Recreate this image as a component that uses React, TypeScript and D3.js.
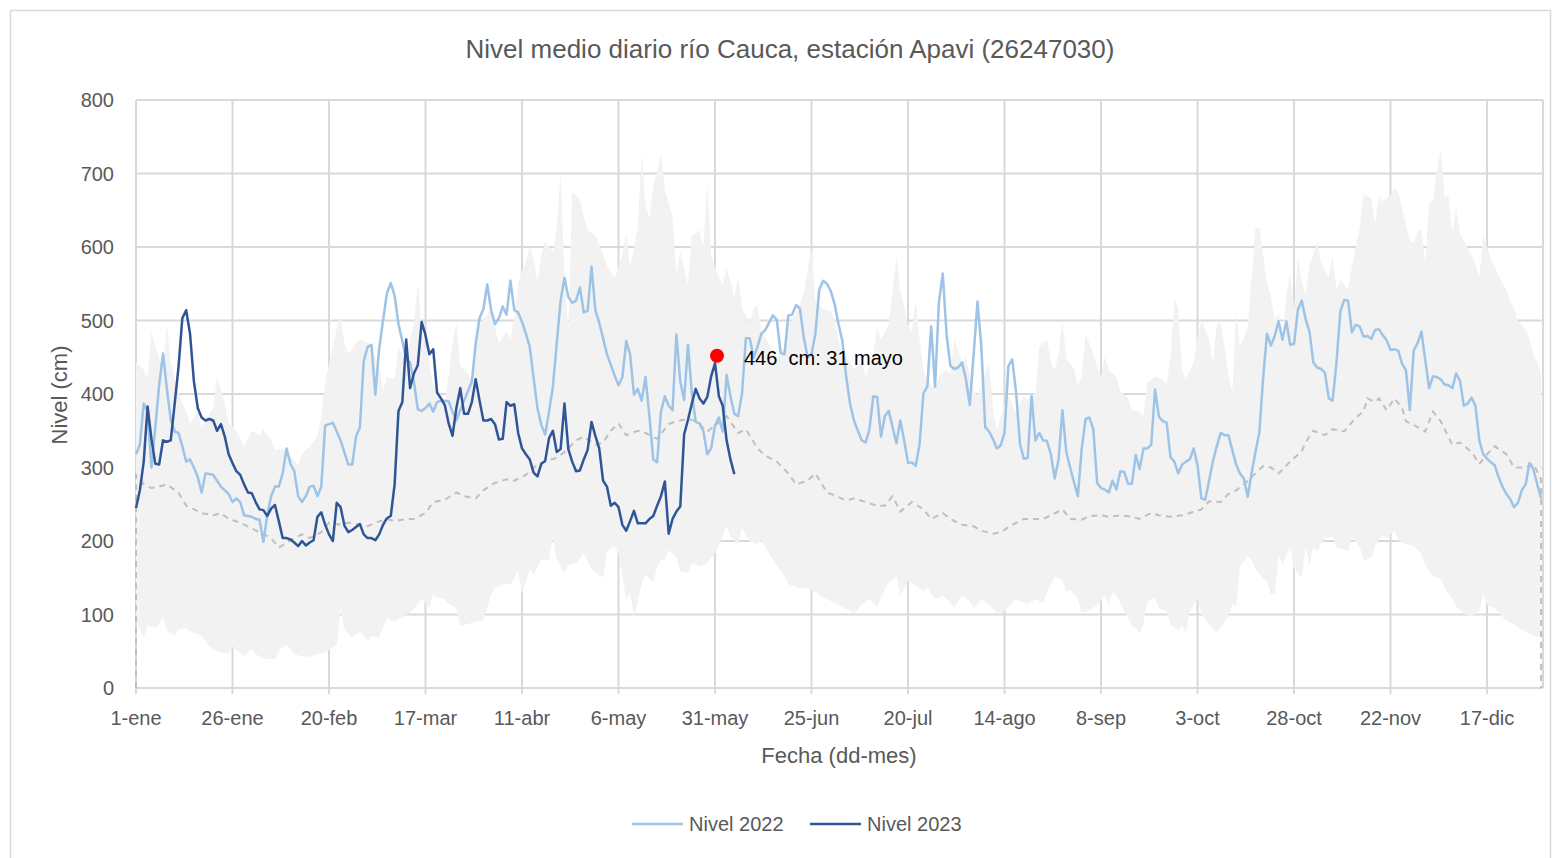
import { useEffect, useRef } from "react";
import * as d3 from "d3";

// eje x: día del año (0 = 1-ene)
const tickDias = [0, 25, 50, 75, 100, 125, 150, 175, 200, 225, 250, 275, 300, 325, 350];
const tickFechas = ["1-ene", "26-ene", "20-feb", "17-mar", "11-abr", "6-may", "31-may", "25-jun", "20-jul", "14-ago", "8-sep", "3-oct", "28-oct", "22-nov", "17-dic"];
const tickNivel = [0, 100, 200, 300, 400, 500, 600, 700, 800];

// [día, nivel cm]
const nivel2022: [number, number][] = [
  [0, 318], [1, 331], [2, 387], [3, 376], [4, 300], [5, 355], [6, 412], [7, 455], [8, 407], [9, 365],
  [10, 349], [11, 347], [12, 329], [13, 308], [14, 311], [15, 300], [16, 287], [17, 266], [18, 292], [20, 290],
  [21, 282], [22, 274], [23, 269], [24, 264], [25, 253], [26, 258], [27, 253], [28, 235], [30, 233], [31, 230],
  [32, 229], [33, 199], [34, 235], [35, 261], [36, 274], [37, 274], [38, 292], [39, 326], [40, 305], [41, 295],
  [42, 261], [43, 253], [44, 261], [45, 274], [46, 275], [47, 261], [48, 274], [49, 357], [51, 361], [53, 337],
  [55, 304], [56, 304], [57, 342], [58, 355], [59, 445], [60, 464], [61, 467], [62, 399], [63, 462], [64, 500],
  [65, 537], [66, 551], [67, 534], [68, 495], [69, 472], [70, 446], [71, 443], [72, 417], [73, 379], [74, 377],
  [75, 381], [76, 387], [77, 376], [78, 389], [79, 391], [81, 390], [82, 376], [83, 364], [84, 378], [85, 391],
  [87, 417], [88, 469], [89, 503], [90, 516], [91, 549], [92, 514], [93, 495], [94, 503], [95, 519], [96, 508],
  [97, 554], [98, 514], [99, 511], [100, 498], [101, 482], [102, 464], [103, 422], [104, 381], [105, 358], [106, 345],
  [107, 376], [108, 410], [109, 469], [110, 527], [111, 558], [112, 532], [113, 524], [114, 527], [115, 545], [116, 511],
  [117, 513], [118, 573], [119, 514], [120, 497], [121, 476], [122, 454], [123, 440], [124, 425], [125, 412], [126, 423],
  [127, 472], [128, 454], [129, 399], [130, 407], [131, 391], [132, 423], [133, 370], [134, 311], [135, 307], [136, 376],
  [137, 397], [138, 384], [139, 378], [140, 481], [141, 417], [142, 392], [143, 467], [144, 401], [145, 362], [146, 360],
  [147, 349], [148, 318], [149, 326], [150, 357], [151, 368], [152, 349], [153, 426], [154, 397], [155, 373], [156, 370],
  [157, 401], [158, 476], [159, 476], [160, 449], [161, 464], [162, 482], [163, 487], [165, 507], [166, 501], [167, 456],
  [168, 454], [169, 507], [170, 508], [171, 521], [172, 516], [173, 477], [174, 450], [175, 454], [176, 482], [177, 542],
  [178, 554], [179, 550], [180, 540], [181, 522], [182, 495], [183, 472], [184, 423], [185, 386], [186, 364], [187, 350],
  [188, 337], [189, 334], [190, 352], [191, 397], [192, 396], [193, 342], [194, 370], [195, 377], [196, 355], [197, 333],
  [198, 364], [199, 337], [200, 306], [201, 307], [202, 302], [203, 332], [204, 401], [205, 410], [206, 492], [207, 410],
  [208, 524], [209, 564], [210, 480], [211, 438], [212, 434], [213, 436], [214, 443], [215, 420], [216, 385], [217, 454],
  [218, 526], [219, 464], [220, 355], [221, 349], [222, 339], [223, 326], [224, 330], [225, 347], [226, 438], [227, 447],
  [228, 402], [229, 332], [230, 312], [231, 313], [232, 397], [233, 337], [234, 347], [235, 337], [236, 336], [237, 318],
  [238, 285], [239, 311], [240, 378], [241, 321], [242, 300], [243, 280], [244, 261], [245, 326], [246, 366], [247, 368],
  [248, 352], [249, 279], [250, 272], [251, 270], [252, 266], [253, 282], [254, 270], [255, 295], [256, 294], [257, 278],
  [258, 278], [259, 317], [260, 298], [261, 326], [262, 326], [263, 331], [264, 406], [265, 369], [266, 363], [267, 361],
  [268, 314], [269, 308], [270, 292], [271, 304], [272, 308], [273, 311], [274, 326], [275, 303], [276, 258], [277, 256],
  [278, 282], [279, 309], [280, 329], [281, 347], [282, 344], [283, 344], [284, 324], [285, 304], [286, 292], [287, 285],
  [288, 260], [289, 292], [290, 321], [291, 347], [292, 422], [293, 482], [294, 466], [295, 479], [296, 499], [297, 474],
  [298, 499], [299, 467], [300, 468], [301, 515], [302, 527], [303, 502], [304, 485], [305, 443], [306, 436], [307, 434],
  [308, 429], [309, 394], [310, 391], [311, 443], [312, 512], [313, 528], [314, 527], [315, 484], [316, 494], [317, 492],
  [318, 478], [319, 479], [320, 475], [321, 487], [322, 488], [323, 480], [324, 473], [325, 460], [326, 461], [327, 459],
  [328, 441], [329, 432], [330, 378], [331, 459], [332, 469], [333, 485], [334, 446], [335, 408], [336, 424], [337, 423],
  [338, 420], [339, 413], [340, 412], [341, 408], [342, 428], [343, 418], [344, 384], [345, 387], [346, 395], [347, 384],
  [348, 337], [349, 318], [350, 312], [351, 307], [352, 303], [353, 287], [354, 274], [355, 264], [356, 257], [357, 246],
  [358, 252], [359, 269], [360, 277], [361, 306], [362, 298], [363, 277], [364, 258],
];

const nivel2023: [number, number][] = [
  [0, 245], [1, 269], [2, 308], [3, 383], [4, 339], [5, 305], [6, 304], [7, 337], [8, 335], [9, 337],
  [10, 386], [11, 436], [12, 503], [13, 514], [14, 482], [15, 417], [16, 381], [17, 368], [18, 364], [19, 366],
  [20, 364], [21, 350], [22, 359], [23, 342], [24, 318], [25, 306], [26, 295], [27, 290], [28, 277], [29, 266],
  [30, 265], [31, 253], [32, 243], [33, 242], [34, 234], [35, 244], [36, 249], [37, 227], [38, 204], [39, 204],
  [40, 202], [41, 198], [42, 193], [43, 200], [44, 194], [45, 198], [46, 201], [47, 233], [48, 239], [49, 222],
  [50, 209], [51, 200], [52, 252], [53, 246], [54, 221], [55, 212], [56, 215], [57, 219], [58, 223], [59, 209],
  [60, 204], [61, 204], [62, 201], [63, 209], [64, 222], [65, 231], [66, 234], [67, 277], [68, 377], [69, 389],
  [70, 474], [71, 408], [72, 428], [73, 439], [74, 498], [75, 480], [76, 454], [77, 461], [78, 402], [79, 394],
  [80, 385], [81, 360], [82, 343], [83, 381], [84, 408], [85, 373], [86, 373], [87, 389], [88, 420], [89, 391],
  [90, 364], [91, 364], [92, 366], [93, 359], [94, 338], [95, 339], [96, 389], [97, 384], [98, 386], [99, 347],
  [100, 326], [101, 318], [102, 311], [103, 293], [104, 288], [105, 305], [106, 309], [107, 340], [108, 350], [109, 321],
  [110, 325], [111, 387], [112, 325], [113, 308], [114, 295], [115, 296], [116, 311], [117, 324], [118, 362], [119, 343],
  [120, 326], [121, 282], [122, 274], [123, 248], [124, 252], [125, 246], [126, 222], [127, 214], [128, 227], [129, 241],
  [130, 224], [131, 224], [132, 224], [133, 230], [134, 234], [135, 248], [136, 261], [137, 281], [138, 210], [139, 230],
  [140, 240], [141, 247], [142, 345], [143, 365], [144, 387], [145, 407], [146, 394], [147, 387], [148, 396], [149, 424],
  [150, 442], [151, 397], [152, 384], [153, 337], [154, 311], [155, 291],
];

// nivel medio histórico
const nivelMedio: [number, number][] = [
  [0, 290], [2, 277], [4, 272], [6, 274], [8, 277], [11, 266], [13, 248], [15, 243], [17, 238], [20, 235],
  [22, 238], [24, 230], [27, 225], [30, 217], [32, 212], [35, 204], [37, 191], [40, 201], [43, 209], [45, 204],
  [48, 212], [50, 225], [53, 222], [55, 225], [58, 222], [60, 220], [62, 225], [65, 230], [67, 227], [70, 230],
  [72, 230], [75, 238], [77, 253], [80, 256], [83, 266], [85, 261], [88, 258], [90, 269], [93, 279], [96, 284],
  [98, 282], [101, 290], [103, 300], [106, 309], [109, 313], [111, 321], [114, 337], [116, 342], [119, 331], [121, 334],
  [123, 350], [125, 360], [127, 344], [130, 350], [132, 347], [135, 339], [138, 359], [140, 363], [143, 366], [145, 363],
  [148, 349], [150, 357], [153, 370], [156, 347], [158, 352], [161, 326], [163, 316], [166, 308], [169, 292], [171, 277],
  [174, 282], [176, 292], [179, 266], [181, 262], [184, 255], [186, 258], [189, 253], [192, 248], [194, 248], [196, 261],
  [198, 240], [201, 253], [204, 243], [206, 230], [209, 238], [211, 230], [214, 222], [217, 220], [219, 214], [222, 210],
  [224, 212], [227, 222], [230, 230], [232, 230], [235, 230], [237, 235], [240, 243], [242, 230], [245, 229], [247, 234],
  [250, 235], [252, 233], [255, 235], [258, 233], [260, 230], [263, 238], [265, 235], [268, 233], [271, 235], [273, 238],
  [276, 243], [278, 254], [281, 253], [283, 264], [285, 269], [287, 277], [290, 292], [292, 302], [294, 300], [296, 292],
  [299, 308], [302, 322], [303, 334], [305, 350], [308, 344], [310, 352], [313, 349], [316, 368], [318, 376], [319, 394],
  [321, 389], [322, 394], [324, 378], [326, 394], [328, 381], [329, 363], [331, 358], [334, 349], [336, 376], [338, 363],
  [341, 331], [343, 334], [346, 321], [348, 305], [350, 318], [352, 329], [355, 318], [357, 300], [360, 300], [362, 305],
  [364, 284],
];

// banda máximo / mínimo histórico
const nivelMax: [number, number][] = [
  [0, 443], [2, 433], [3, 420], [4, 485], [5, 464], [7, 433], [8, 495], [9, 443], [11, 402], [13, 376],
  [14, 360], [16, 376], [17, 355], [18, 365], [20, 381], [21, 423], [23, 389], [24, 360], [26, 350], [28, 329],
  [29, 339], [30, 350], [32, 344], [33, 352], [35, 337], [36, 324], [38, 326], [40, 316], [42, 303], [43, 318],
  [45, 329], [47, 342], [48, 370], [49, 417], [51, 464], [52, 490], [53, 505], [54, 469], [55, 454], [57, 469],
  [58, 474], [60, 470], [61, 464], [63, 438], [64, 404], [65, 423], [67, 420], [68, 464], [70, 443], [71, 474],
  [72, 495], [73, 550], [74, 485], [76, 443], [77, 412], [78, 407], [80, 391], [81, 423], [82, 469], [83, 498],
  [84, 438], [86, 428], [87, 417], [88, 464], [89, 495], [91, 508], [92, 516], [93, 490], [94, 469], [96, 485],
  [97, 474], [98, 505], [99, 552], [100, 568], [101, 580], [102, 600], [103, 584], [104, 552], [105, 589], [106, 607],
  [108, 594], [109, 626], [110, 701], [111, 565], [112, 482], [113, 675], [115, 665], [116, 641], [117, 623], [119, 615],
  [120, 603], [121, 590], [122, 575], [123, 566], [124, 558], [126, 589], [127, 618], [128, 573], [130, 626], [131, 727],
  [132, 657], [133, 639], [134, 683], [136, 727], [137, 678], [139, 641], [140, 563], [141, 594], [143, 548], [144, 615],
  [146, 623], [147, 599], [148, 688], [149, 589], [151, 558], [152, 548], [153, 571], [154, 553], [155, 532], [156, 559],
  [157, 516], [159, 498], [160, 516], [161, 521], [162, 485], [164, 469], [166, 449], [168, 464], [169, 495], [171, 508],
  [173, 537], [175, 599], [176, 527], [178, 516], [180, 513], [181, 500], [182, 475], [183, 454], [185, 443], [186, 433],
  [188, 443], [189, 423], [191, 454], [192, 490], [193, 474], [195, 495], [196, 542], [197, 587], [198, 542], [200, 495],
  [201, 485], [202, 527], [203, 474], [204, 433], [205, 417], [207, 407], [208, 425], [210, 433], [211, 428], [212, 474],
  [214, 443], [215, 449], [217, 404], [218, 397], [220, 428], [221, 443], [222, 381], [223, 350], [225, 386], [226, 397],
  [228, 376], [230, 397], [231, 391], [233, 402], [234, 464], [236, 474], [237, 443], [238, 433], [239, 454], [240, 498],
  [241, 449], [243, 434], [244, 412], [245, 423], [246, 482], [248, 454], [250, 423], [251, 451], [252, 433], [254, 423],
  [255, 404], [257, 394], [258, 378], [260, 376], [261, 370], [262, 415], [264, 423], [265, 422], [267, 415], [268, 449],
  [269, 529], [270, 516], [271, 433], [272, 420], [274, 443], [275, 477], [276, 500], [278, 474], [279, 441], [280, 495],
  [281, 498], [283, 428], [284, 402], [285, 511], [286, 464], [288, 490], [289, 558], [290, 626], [291, 626], [293, 550],
  [294, 532], [295, 500], [296, 511], [297, 474], [298, 534], [299, 563], [300, 516], [301, 587], [302, 553], [303, 535],
  [304, 573], [306, 607], [307, 578], [309, 558], [310, 589], [311, 540], [312, 555], [314, 542], [315, 573], [317, 626],
  [318, 671], [320, 667], [321, 631], [322, 670], [323, 662], [325, 670], [326, 680], [327, 675], [328, 652], [330, 610],
  [331, 605], [332, 620], [333, 626], [334, 576], [335, 659], [336, 662], [337, 704], [338, 732], [339, 667], [340, 670],
  [341, 620], [342, 654], [343, 618], [345, 599], [346, 589], [347, 576], [348, 558], [349, 615], [351, 584], [352, 573],
  [353, 561], [355, 542], [356, 527], [357, 516], [358, 500], [360, 488], [361, 474], [362, 454], [363, 443], [364, 430],
];

const nivelMin: [number, number][] = [
  [0, 90], [2, 69], [3, 85], [5, 82], [6, 87], [7, 95], [8, 79], [10, 71], [11, 79], [13, 82],
  [14, 77], [17, 71], [19, 56], [22, 48], [24, 46], [25, 56], [27, 48], [28, 43], [30, 53], [31, 46],
  [33, 40], [36, 39], [37, 51], [39, 59], [41, 46], [43, 43], [45, 43], [47, 46], [49, 48], [52, 59],
  [53, 108], [54, 79], [56, 69], [58, 77], [60, 64], [61, 71], [63, 69], [65, 95], [67, 90], [69, 97],
  [71, 102], [72, 108], [74, 121], [76, 110], [77, 128], [78, 123], [80, 121], [81, 115], [83, 108], [84, 85],
  [86, 87], [88, 90], [90, 92], [92, 128], [93, 136], [95, 141], [97, 141], [99, 159], [100, 128], [102, 162],
  [103, 154], [105, 175], [107, 173], [108, 206], [109, 175], [111, 157], [112, 167], [114, 170], [116, 183], [118, 162],
  [119, 157], [121, 150], [122, 186], [124, 194], [125, 183], [127, 120], [128, 131], [129, 95], [131, 141], [132, 154],
  [134, 144], [135, 165], [136, 175], [137, 173], [138, 188], [140, 178], [141, 159], [143, 157], [144, 170], [146, 165],
  [148, 170], [150, 183], [151, 194], [153, 220], [154, 206], [156, 196], [157, 217], [159, 199], [161, 196], [162, 201],
  [164, 183], [166, 167], [168, 152], [169, 141], [172, 136], [174, 136], [176, 131], [178, 123], [181, 116], [183, 110],
  [185, 105], [186, 102], [188, 113], [190, 121], [192, 110], [193, 123], [195, 144], [197, 152], [198, 126], [200, 146],
  [202, 139], [204, 131], [205, 136], [207, 121], [209, 126], [210, 121], [212, 110], [214, 126], [216, 118], [217, 108],
  [219, 121], [221, 113], [223, 102], [224, 100], [226, 110], [228, 121], [229, 118], [231, 115], [233, 121], [235, 115],
  [236, 131], [238, 152], [240, 146], [241, 131], [242, 134], [244, 121], [245, 102], [247, 105], [249, 113], [251, 126],
  [252, 113], [253, 131], [254, 126], [256, 105], [258, 85], [259, 82], [260, 74], [261, 87], [262, 118], [264, 123],
  [265, 108], [267, 105], [268, 85], [270, 79], [271, 85], [272, 74], [273, 105], [275, 121], [276, 100], [278, 87],
  [280, 74], [282, 90], [283, 97], [284, 115], [285, 110], [286, 165], [288, 180], [289, 175], [290, 162], [292, 149],
  [293, 146], [294, 128], [295, 128], [296, 180], [297, 167], [299, 193], [300, 162], [302, 150], [303, 192], [304, 165],
  [305, 193], [306, 186], [308, 204], [310, 206], [311, 191], [314, 186], [315, 204], [317, 193], [318, 173], [320, 178],
  [321, 193], [323, 209], [324, 204], [326, 214], [327, 201], [329, 196], [331, 193], [333, 183], [334, 167], [336, 152],
  [338, 149], [339, 136], [341, 121], [342, 110], [344, 102], [346, 97], [348, 105], [349, 128], [350, 113], [352, 108],
  [354, 97], [355, 92], [357, 87], [359, 79], [361, 74], [362, 71], [364, 69],
];

// marcador: valor anotado y posición del punto en el gráfico
const puntoDia = 150;
const puntoValor = 446;
const puntoMarcado = 452;

const NivelCauca = () => {
  const svgRef = useRef<SVGSVGElement>(null);

  useEffect(() => {
    const svg = d3.select(svgRef.current);
    svg.selectAll("*").remove();

    const font = "'Liberation Sans Narrow', 'Arial Narrow', 'Liberation Sans', sans-serif";
    const gris = "#595959";
    const left = 136, right = 1543, top = 100, bottom = 688;

    const x = d3.scaleLinear().domain([0, 364.5]).range([left, right]);
    const y = d3.scaleLinear().domain([0, 800]).range([bottom, top]);

    // marco exterior
    svg.append("rect")
      .attr("x", 10.5).attr("y", 10.5).attr("width", 1540).attr("height", 870)
      .attr("fill", "#fff").attr("stroke", "#d9d9d9").attr("stroke-width", 1.5);

    // titulo
    svg.append("text")
      .attr("x", 790).attr("y", 58).attr("text-anchor", "middle")
      .style("font-family", font).style("font-size", "26px").style("fill", gris)
      .text("Nivel medio diario río Cauca, estación Apavi (26247030)");

    // grilla
    const grid = svg.append("g").attr("stroke", "#d9d9d9").attr("stroke-width", 2);
    grid.selectAll("line.h").data(tickNivel).join("line").attr("class", "h")
      .attr("x1", left).attr("x2", right).attr("y1", (d) => y(d)).attr("y2", (d) => y(d));
    grid.selectAll("line.v").data(tickDias).join("line").attr("class", "v")
      .attr("x1", (d) => x(d)).attr("x2", (d) => x(d)).attr("y1", top).attr("y2", bottom + 6);
    grid.append("line").attr("x1", right).attr("x2", right).attr("y1", top).attr("y2", bottom);

    // banda min-max
    const line = d3.line<[number, number]>().x((d) => x(d[0])).y((d) => y(d[1]));
    const banda = [...nivelMax, ...nivelMin.slice().reverse()];
    svg.append("path").attr("d", line(banda) + "Z").attr("fill", "#f2f2f2");

    // eje inferior
    svg.append("line").attr("x1", left).attr("x2", right).attr("y1", bottom).attr("y2", bottom)
      .attr("stroke", "#d9d9d9").attr("stroke-width", 2);

    // nivel medio (con caída a cero en los extremos)
    const primero = nivelMedio[0], ultimo = nivelMedio[nivelMedio.length - 1];
    svg.append("path")
      .attr("d", line([[primero[0], 0], ...nivelMedio, [ultimo[0], 0]]))
      .attr("fill", "none").attr("stroke", "#bfbfbf").attr("stroke-width", 2)
      .attr("stroke-dasharray", "6,5");

    svg.append("path").attr("d", line(nivel2022))
      .attr("fill", "none").attr("stroke", "#9dc3e6").attr("stroke-width", 2.5)
      .attr("stroke-linejoin", "round");

    svg.append("path").attr("d", line(nivel2023))
      .attr("fill", "none").attr("stroke", "#2f5597").attr("stroke-width", 2.5)
      .attr("stroke-linejoin", "round");

    // punto destacado
    svg.append("circle")
      .attr("cx", x(puntoDia) + 2).attr("cy", y(puntoMarcado))
      .attr("r", 7).attr("fill", "#ff0000");
    svg.append("text")
      .attr("x", x(puntoDia) + 29).attr("y", y(puntoMarcado) + 9)
      .style("font-family", font).style("font-size", "20px").style("fill", "#000")
      .style("white-space", "pre")
      .text(`${puntoValor}  cm: 31 mayo`);

    // etiquetas eje y
    svg.append("g").selectAll("text").data(tickNivel).join("text")
      .attr("x", 114).attr("y", (d) => y(d) + 7).attr("text-anchor", "end")
      .style("font-family", font).style("font-size", "20px").style("fill", gris)
      .text((d) => d);

    // etiquetas eje x
    svg.append("g").selectAll("text").data(tickDias).join("text")
      .attr("x", (d) => x(d)).attr("y", 725).attr("text-anchor", "middle")
      .style("font-family", font).style("font-size", "20px").style("fill", gris)
      .text((d, i) => tickFechas[i]);

    svg.append("text")
      .attr("x", 839).attr("y", 763).attr("text-anchor", "middle")
      .style("font-family", font).style("font-size", "22px").style("fill", gris)
      .text("Fecha (dd-mes)");

    svg.append("text")
      .attr("transform", "translate(67, 395) rotate(-90)").attr("text-anchor", "middle")
      .style("font-family", font).style("font-size", "22px").style("fill", gris)
      .text("Nivel (cm)");

    // leyenda
    const leyenda = [
      { nombre: "Nivel 2022", color: "#9dc3e6", x0: 632 },
      { nombre: "Nivel 2023", color: "#2f5597", x0: 810 },
    ];
    const lg = svg.append("g").selectAll("g").data(leyenda).join("g");
    lg.append("line")
      .attr("x1", (d) => d.x0).attr("x2", (d) => d.x0 + 51).attr("y1", 824).attr("y2", 824)
      .attr("stroke", (d) => d.color).attr("stroke-width", 2.5);
    lg.append("text")
      .attr("x", (d) => d.x0 + 57).attr("y", 831)
      .style("font-family", font).style("font-size", "20px").style("fill", gris)
      .text((d) => d.nombre);
  }, []);

  return (
    <svg ref={svgRef} width={1557} height={858}
      style={{ position: "absolute", left: 0, top: 0, background: "#fff" }} />
  );
};

export default function App() {
  return <NivelCauca />;
}
